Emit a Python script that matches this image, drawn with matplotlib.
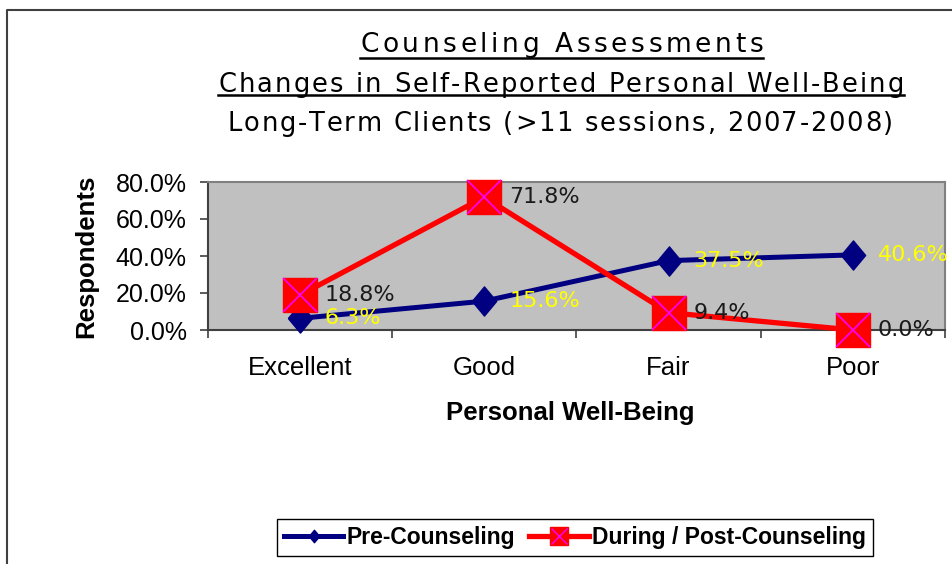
import numpy as np
import matplotlib
matplotlib.use("Agg")
import matplotlib.pyplot as plt
from matplotlib.lines import Line2D
from matplotlib.font_manager import FontProperties

# data (percent of respondents)
categories = ["Excellent", "Good", "Fair", "Poor"]
pre_counseling = [6.3, 15.6, 37.5, 40.6]
post_counseling = [18.8, 71.8, 9.4, 0.0]
yticks = [0, 20, 40, 60, 80]
titles = ["Counseling Assessments",
          "Changes in Self-Reported Personal Well-Being",
          "Long-Term Clients (>11 sessions, 2007-2008)"]

W, H = 952, 564
fig = plt.figure(figsize=(W / 100, H / 100), dpi=100)

def px(x, y):
    return x / W, 1 - y / H

# outer frame (left and top edges visible)
fig.add_artist(Line2D([7 / W, 7 / W, 1], [0, 1 - 10 / H, 1 - 10 / H],
                      color="#404040", lw=1.5, transform=fig.transFigure))

ax = fig.add_axes([207.7 / W, 1 - 330 / H, (945 - 207.7) / W, 148 / H])
ax.set_facecolor("#C0C0C0")

x = np.arange(len(categories))
blue = "#000080"
red = "#FF0000"
diamond = [(-1, 0), (0, 1.2), (1, 0), (0, -1.2), (-1, 0)]

ax.plot(x, pre_counseling, color=blue, lw=3.6, marker=diamond,
        markersize=21, markerfacecolor=blue, markeredgecolor=blue,
        clip_on=False, zorder=3)
ax.plot(x, post_counseling, color=red, lw=3.8, marker="s",
        markersize=25, markerfacecolor=red, markeredgecolor=red,
        clip_on=False, zorder=4)
ax.plot(x, post_counseling, ls="none", marker="x", markersize=24,
        markeredgecolor="#FF00FF", markeredgewidth=1.2,
        clip_on=False, zorder=5)

for xi, v in zip(x, pre_counseling):
    ax.annotate(f"{v:.1f}%", (xi, v), xytext=(18, 0),
                textcoords="offset points", ha="left", va="center",
                color="#FFFF00", fontsize=16, family="DejaVu Sans",
                zorder=6, annotation_clip=False)
for xi, v in zip(x, post_counseling):
    ax.annotate(f"{v:.1f}%", (xi, v), xytext=(18, 0),
                textcoords="offset points", ha="left", va="center",
                color="#1a1a1a", fontsize=16, family="DejaVu Sans",
                zorder=6, annotation_clip=False)

ax.set_xlim(-0.5, len(categories) - 0.5)
ax.set_ylim(0, 80)
ax.set_yticks(yticks)
ax.set_yticklabels([f"{v:.1f}%" for v in yticks], family="Liberation Sans",
                   fontsize=18)
ax.set_xticks(x)
ax.set_xticklabels(categories, family="Liberation Sans", fontsize=18.5)
ax.set_xticks(np.arange(-0.5, len(categories)), minor=True)
ax.tick_params(axis="x", which="major", length=0, pad=19)
ax.tick_params(axis="x", which="minor", length=6, width=1.2,
               direction="out", color="#404040")
ax.tick_params(axis="y", length=6, width=1.2, direction="out",
               color="#404040", pad=9)

for side in ["top", "right"]:
    ax.spines[side].set_color("#808080")
    ax.spines[side].set_linewidth(1.5)
for side in ["left", "bottom"]:
    ax.spines[side].set_color("#404040")
    ax.spines[side].set_linewidth(1.5)

fig.text(*px(86, 256), "Respondents", rotation=90, ha="center",
         va="center", fontsize=18.5, fontweight="bold",
         family="Liberation Sans")
fig.text(*px(570, 413), "Personal Well-Being", ha="center", va="center",
         fontsize=18.5, fontweight="bold", family="Liberation Sans")

# titles: letter-spaced text, first two lines underlined
fig.canvas.draw()
renderer = fig.canvas.get_renderer()

def spaced_text(s, cx, base_y, size, width):
    fp = FontProperties(family="DejaVu Sans", size=size)
    ws = [renderer.get_text_width_height_descent(c, fp, ismath=False)[0]
          for c in s]
    track = (width - sum(ws)) / (len(s) - 1)
    xpos = cx - width / 2
    for c, w in zip(s, ws):
        fig.text(xpos / W, 1 - base_y / H, c, ha="left", va="baseline",
                 fontproperties=fp)
        xpos += w + track
    return cx - width / 2, cx + width / 2

title_base = [52.5, 92, 131]
title_size = [19, 18.5, 18.5]
title_width = [403, 686, 665]
title_cx = [561.5, 561, 560.5]
underline_y = [58, 95]
for i, t in enumerate(titles):
    x0, x1 = spaced_text(t, title_cx[i], title_base[i], title_size[i],
                         title_width[i])
    if i < 2:
        fig.add_artist(Line2D([x0 / W, x1 / W],
                              [1 - underline_y[i] / H, 1 - underline_y[i] / H],
                              color="black", lw=1.8,
                              transform=fig.transFigure))

# legend
h1 = Line2D([], [], color=blue, lw=3.6, marker=diamond, markersize=9,
            markerfacecolor=blue, markeredgecolor=blue)
h2 = Line2D([], [], color=red, lw=3.8, marker="s", markersize=13,
            markerfacecolor=red, markeredgecolor=red)
h2x = Line2D([], [], ls="none", marker="x", markersize=12,
             markeredgecolor="#FF00FF", markeredgewidth=1.0)
leg = fig.legend([h1, (h2, h2x)], ["Pre-Counseling", "During / Post-Counseling"],
                 loc="center", bbox_to_anchor=px(575, 537.5), ncol=2,
                 frameon=True, fancybox=False, edgecolor="black",
                 framealpha=1, handlelength=2.6, handletextpad=0.15,
                 columnspacing=0.6, borderpad=0.3,
                 prop={"family": "Liberation Sans", "weight": "bold",
                       "size": 16.5})
leg.get_frame().set_linewidth(1.0)

fig.savefig("out.png", dpi=100)
